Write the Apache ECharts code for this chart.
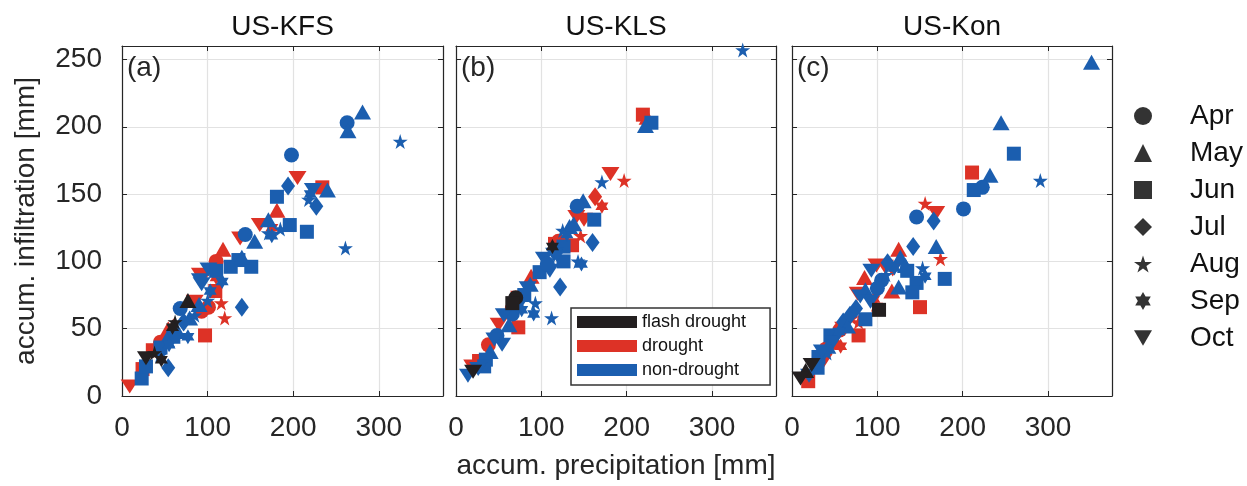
<!DOCTYPE html>
<html><head><meta charset="utf-8">
<script src="https://cdn.jsdelivr.net/npm/echarts@6/dist/echarts.min.js"></script>
<style>html,body{margin:0;padding:0;background:#fff}#c{width:1247px;height:486px}</style>
</head><body><div id="c"></div>
<script>
// ---------- data ----------
const panelTitles = ['US-KFS', 'US-KLS', 'US-Kon'];
const panelLetters = ['(a)', '(b)', '(c)'];
const months = ['Apr', 'May', 'Jun', 'Jul', 'Aug', 'Sep', 'Oct'];
const classes = ['flash drought', 'drought', 'non-drought'];
const xTicks = [0, 100, 200, 300];
const yTicks = [0, 50, 100, 150, 200, 250];
const xLabel = 'accum. precipitation [mm]';
const yLabel = 'accum. infiltration [mm]';

// each point: [accum. precipitation, accum. infiltration, month index (0=Apr .. 6=Oct)]
const kfsFlash = [[77,71,1],[62,55,4],[59,51,5],[28,28,6],[46,27,5],[38,32,4]];
const kfsDrought = [[205,162,6],[234,155,2],[181,138,1],[161,127,6],[175,125,5],[138,117,6],[118,109,1],[110,100,0],
  [95,89,6],[91,90,6],[109,78,2],[116,69,4],[120,58,4],[110,88,5],[93,63,0],[101,66,0],[97,45,2],[54,50,1],
  [36,34,2],[24,20,2],[9,7,6],[85,70,6],[60,52,1],[45,40,0]];
const kfsNon = [[263,203,0],[281,211,1],[264,197,1],[325,189,4],[198,179,0],[194,156,3],[181,148,2],[240,153,1],
  [223,153,6],[218,146,4],[220,150,5],[227,141,3],[171,131,1],[171,121,4],[175,119,5],[185,124,4],[196,127,2],
  [216,122,2],[261,110,4],[144,120,0],[155,115,1],[136,101,2],[151,96,2],[127,96,2],[140,103,1],[101,94,6],
  [93,83,6],[91,86,6],[100,71,4],[117,85,5],[103,78,5],[140,66,3],[68,65,0],[79,58,1],[77,44,5],[60,44,2],
  [52,42,1],[45,36,2],[55,38,5],[44,30,4],[54,21,3],[23,13,2],[28,22,2],[110,93,2],[85,60,4],[90,68,1],
  [65,48,1],[72,55,3]];

const klsFlash = [[113,111,5],[70,73,0],[66,69,2],[20,18,6]];
const klsDrought = [[219,209,2],[224,207,1],[181,165,6],[197,160,4],[163,148,3],[171,141,5],[141,133,6],[146,119,4],
  [116,113,2],[136,112,2],[88,89,1],[74,73,6],[66,65,0],[73,51,2],[50,53,6],[38,38,0],[27,26,2],[19,22,6],
  [120,115,0],[150,131,6]];
const klsNon = [[336,257,4],[229,203,2],[222,201,1],[171,159,4],[149,145,1],[142,141,0],[162,131,2],[160,114,3],
  [126,111,2],[143,100,4],[147,98,5],[126,100,2],[103,102,6],[110,93,6],[122,81,3],[87,83,1],[84,80,6],
  [93,69,4],[91,61,5],[112,58,4],[77,64,5],[66,61,0],[62,53,1],[56,60,6],[54,38,6],[40,33,1],[35,27,2],
  [33,22,2],[14,15,6],[125,123,4],[133,126,1],[130,120,5],[138,128,1],[115,105,6],[98,92,2],[80,75,2],
  [72,66,6],[48,45,0],[45,42,6],[26,20,6],[118,107,3],[107,98,0]];

const konFlash = [[102,64,2],[23,23,6],[16,19,1],[10,13,6]];
const konDrought = [[211,166,2],[156,143,4],[169,136,6],[174,102,4],[125,109,1],[150,66,2],[117,78,1],[99,97,6],
  [109,96,6],[98,68,4],[96,72,5],[77,76,6],[78,45,2],[78,55,4],[56,49,0],[60,50,6],[52,40,1],[57,37,5],
  [19,11,2],[37,26,6],[118,94,6],[85,88,1],[70,58,4],[40,35,0]];
const konNon = [[351,248,1],[245,203,1],[260,180,2],[291,160,4],[232,164,1],[223,155,0],[213,153,2],[201,139,0],
  [146,133,0],[166,130,3],[142,111,3],[169,111,1],[127,103,1],[153,95,4],[156,89,5],[179,87,2],[146,84,2],
  [141,77,2],[125,81,1],[93,93,6],[105,86,0],[86,79,1],[80,74,6],[86,57,2],[60,55,3],[68,60,3],[45,45,2],
  [48,40,6],[42,37,1],[31,29,2],[41,32,4],[30,21,2],[133,97,1],[120,95,5],[110,90,4],[100,80,0],[92,70,6],
  [75,65,3],[65,52,1],[55,48,5],[35,33,6],[20,15,6],[112,99,3],[135,93,2]];

// ---------- style ----------
const FONT = 'Liberation Sans, Arial, Helvetica, sans-serif';
const TXT = '#262626';
const COLORS = {'flash drought': '#231f20', 'drought': '#dd3226', 'non-drought': '#1b5eaf'};
const STAR = 'path://M0,-1L0.2245,-0.309L0.951,-0.309L0.3633,0.118L0.588,0.809L0,0.382L-0.588,0.809L-0.3633,0.118L-0.951,-0.309L-0.2245,-0.309Z';
const HEX = 'path://M0,-1L0.2887,-0.5L0.866,-0.5L0.577,0L0.866,0.5L0.2887,0.5L0,1L-0.2887,0.5L-0.866,0.5L-0.577,0L-0.866,-0.5L-0.2887,-0.5Z';
const DOWN = 'path://M0,0L2,0L1,1.732Z';
const SYM = ['circle', 'triangle', 'rect', 'diamond', STAR, HEX, DOWN];
const SIZE = [15, [17, 15], 14, [14, 19], 15, [13, 15], [18, 14]];

const grids = [
  {left: 122, top: 46, width: 321, height: 350},
  {left: 456, top: 46, width: 320, height: 350},
  {left: 792, top: 46, width: 320, height: 350}
];
const XMAX = 375, YMAX = 260;

const xAxes = [], yAxes = [];
grids.forEach((g, i) => {
  xAxes.push({
    type: 'value', gridIndex: i, min: 0, max: XMAX, interval: 100, position: 'bottom',
    axisLine: {show: true, onZero: false, lineStyle: {color: TXT, width: 1.2}},
    axisTick: {show: true, inside: true, length: 5, lineStyle: {color: TXT}},
    axisLabel: {fontSize: 28, color: TXT, fontFamily: FONT, margin: 18,
      formatter: v => xTicks.includes(v) ? String(v) : ''},
    splitLine: {show: true, lineStyle: {color: '#e2e2e2', width: 1.2}},
    name: i === 1 ? xLabel : '', nameLocation: 'middle', nameGap: 56,
    nameTextStyle: {fontSize: 28, color: TXT, fontFamily: FONT}
  });
  xAxes.push({
    type: 'value', gridIndex: i, min: 0, max: XMAX, interval: 100, position: 'top',
    axisLine: {show: true, onZero: false, lineStyle: {color: TXT, width: 1.2}},
    axisTick: {show: true, inside: true, length: 5, lineStyle: {color: TXT}},
    axisLabel: {show: false}, splitLine: {show: false}
  });
  yAxes.push({
    type: 'value', gridIndex: i, min: 0, max: YMAX, interval: 50, position: 'left',
    axisLine: {show: true, onZero: false, lineStyle: {color: TXT, width: 1.2}},
    axisTick: {show: true, inside: true, length: 5, lineStyle: {color: TXT}},
    axisLabel: {show: i === 0, fontSize: 28, color: TXT, fontFamily: FONT, margin: 20,
      formatter: v => yTicks.includes(v) ? String(v) : ''},
    splitLine: {show: true, lineStyle: {color: '#e2e2e2', width: 1.2}},
    name: i === 0 ? yLabel : '', nameLocation: 'middle', nameGap: 82,
    nameTextStyle: {fontSize: 28, color: TXT, fontFamily: FONT}
  });
  yAxes.push({
    type: 'value', gridIndex: i, min: 0, max: YMAX, interval: 50, position: 'right',
    axisLine: {show: true, onZero: false, lineStyle: {color: TXT, width: 1.2}},
    axisTick: {show: true, inside: true, length: 5, lineStyle: {color: TXT}},
    axisLabel: {show: false}, splitLine: {show: false}
  });
});

function scatter(name, data, gi) {
  return {
    type: 'scatter', name: name, xAxisIndex: gi * 2, yAxisIndex: gi * 2, data: data,
    symbol: v => SYM[v[2]], symbolSize: v => SIZE[v[2]],
    itemStyle: {color: COLORS[name], opacity: 1},
    emphasis: {disabled: true}, silent: true
  };
}

const panelData = [
  [kfsDrought, kfsNon, kfsFlash],
  [klsDrought, klsNon, klsFlash],
  [konDrought, konNon, konFlash]
];
const series = [];
panelData.forEach((p, gi) => {
  series.push(scatter('drought', p[0], gi));
  series.push(scatter('non-drought', p[1], gi));
  series.push(scatter('flash drought', p[2], gi));
});
// month symbol keys (legend only)
months.forEach((m, i) => {
  series.push({type: 'scatter', name: m, xAxisIndex: 0, yAxisIndex: 0, data: [],
    symbol: SYM[i], itemStyle: {color: '#000'}});
});

const titles = [];
grids.forEach((g, i) => {
  titles.push({text: panelTitles[i], left: g.left + g.width / 2, top: 13, textAlign: 'center', padding: 0,
    textStyle: {fontSize: 28, fontWeight: 'normal', color: '#111', fontFamily: FONT}});
  titles.push({text: panelLetters[i], left: g.left + 5, top: 54, padding: 0,
    textStyle: {fontSize: 28, fontWeight: 'normal', color: TXT, fontFamily: FONT}});
});

const option = {
  animation: false,
  backgroundColor: '#fff',
  title: titles,
  grid: grids,
  xAxis: xAxes,
  yAxis: yAxes,
  legend: [
    {
      orient: 'vertical', left: 1134, top: 102, padding: 0,
      itemWidth: 18, itemHeight: 18, itemGap: 9, selectedMode: false,
      data: months.map((m, i) => ({name: m, icon: SYM[i]})),
      textStyle: {fontSize: 28, lineHeight: 27, color: '#111', fontFamily: FONT, padding: [0, 0, 0, 33]}
    },
    {
      orient: 'vertical', left: 571, top: 308, padding: [5, 24, 6, 6],
      itemWidth: 60, itemHeight: 12, itemGap: 6, selectedMode: false,
      backgroundColor: '#fff', borderColor: '#333', borderWidth: 1.5, borderRadius: 0,
      data: classes.map(c => ({name: c, icon: 'rect'})),
      textStyle: {fontSize: 18, lineHeight: 18, color: '#111', fontFamily: FONT}
    }
  ],
  series: series
};

const chart = echarts.init(document.getElementById('c'), null, {renderer: 'canvas'});
chart.setOption(option);
</script>
</body></html>
